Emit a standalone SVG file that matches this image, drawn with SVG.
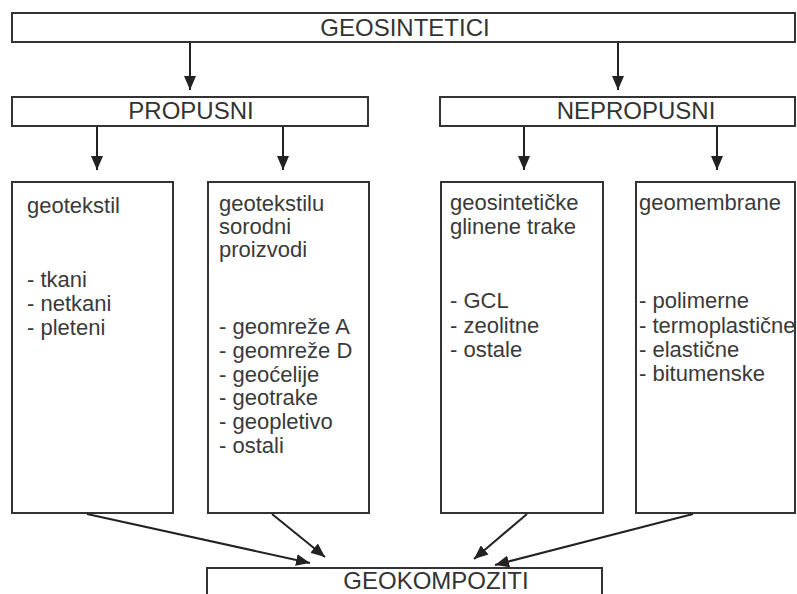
<svg xmlns="http://www.w3.org/2000/svg" width="797" height="594" viewBox="0 0 797 594">
<defs>
<marker id="ah" markerUnits="userSpaceOnUse" markerWidth="14" markerHeight="12" refX="14" refY="6" orient="auto">
<path d="M0,0 L14,6 L0,12 z" fill="#222"/>
</marker>
<style>
.box{fill:#fff;stroke:#333;stroke-width:2}
.hd{font-family:"Liberation Sans",Arial,sans-serif;font-size:24px;fill:#333;text-anchor:middle}
.tx{font-family:"Liberation Sans",Arial,sans-serif;font-size:22px;fill:#3a3a3a}
.cn{stroke:#222;stroke-width:2;fill:none;marker-end:url(#ah)}
</style>
</defs>
<rect width="797" height="594" fill="#fff"/>
<g id="geosintetici"><rect class="box" x="12" y="13" width="783" height="29"/><text class="hd" x="405" y="36">GEOSINTETICI</text></g>
<g id="propusni"><rect class="box" x="12" y="97" width="356" height="29"/><text class="hd" x="191" y="119">PROPUSNI</text></g>
<g id="nepropusni"><rect class="box" x="440" y="97" width="355" height="29"/><text class="hd" x="636" y="119">NEPROPUSNI</text></g>
<g id="geotekstil"><rect class="box" x="12" y="182" width="161" height="331"/>
<text class="tx"><tspan x="27" y="213">geotekstil</tspan><tspan x="27" y="287">- tkani</tspan><tspan x="27" y="311">- netkani</tspan><tspan x="27" y="335">- pleteni</tspan></text></g>
<g id="sorodni"><rect class="box" x="208" y="182" width="161" height="331"/>
<text class="tx"><tspan x="219" y="211">geotekstilu</tspan><tspan x="219" y="234">sorodni</tspan><tspan x="219" y="257">proizvodi</tspan><tspan x="219" y="334">- geomreže A</tspan><tspan x="219" y="358">- geomreže D</tspan><tspan x="219" y="382">- geoćelije</tspan><tspan x="219" y="405">- geotrake</tspan><tspan x="219" y="429">- geopletivo</tspan><tspan x="219" y="453">- ostali</tspan></text></g>
<g id="gcl"><rect class="box" x="441" y="182" width="162" height="331"/>
<text class="tx"><tspan x="450" y="210">geosintetičke</tspan><tspan x="450" y="234">glinene trake</tspan><tspan x="450" y="308">- GCL</tspan><tspan x="450" y="333">- zeolitne</tspan><tspan x="450" y="357">- ostale</tspan></text></g>
<g id="geomembrane"><rect class="box" x="636" y="182" width="159" height="331"/>
<text class="tx"><tspan x="639" y="210">geomembrane</tspan><tspan x="639" y="308">- polimerne</tspan><tspan x="639" y="333">- termoplastične</tspan><tspan x="639" y="357">- elastične</tspan><tspan x="639" y="381">- bitumenske</tspan></text></g>
<g id="geokompoziti"><rect class="box" x="207" y="568" width="395" height="40"/><text class="hd" x="436" y="589">GEOKOMPOZITI</text></g>
<g id="connectors">
<line class="cn" x1="190" y1="43" x2="190" y2="90"/>
<line class="cn" x1="618" y1="43" x2="618" y2="90"/>
<line class="cn" x1="97" y1="127" x2="97" y2="170"/>
<line class="cn" x1="283" y1="127" x2="283" y2="170"/>
<line class="cn" x1="524" y1="127" x2="524" y2="170"/>
<line class="cn" x1="717" y1="127" x2="717" y2="170"/>
<line class="cn" x1="87" y1="514" x2="310" y2="563"/>
<line class="cn" x1="272" y1="514" x2="325" y2="557"/>
<line class="cn" x1="527" y1="514" x2="474" y2="559"/>
<line class="cn" x1="693" y1="514" x2="495" y2="565"/>
</g>
</svg>
